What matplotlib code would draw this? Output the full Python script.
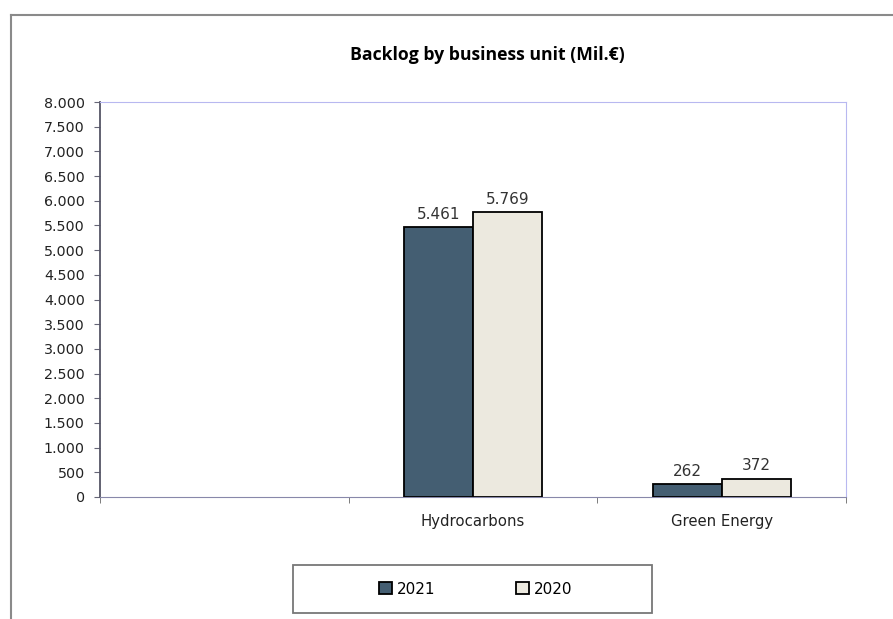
import numpy as np
import matplotlib.pyplot as plt
from matplotlib.lines import Line2D
from matplotlib.patches import Rectangle, Patch

categories = ["", "Hydrocarbons", "Green Energy"]
years = ["2021", "2020"]
backlog_2021 = [0, 5461, 262]
backlog_2020 = [0, 5769, 372]
y_ticks = list(range(0, 8001, 500))

c_2021 = "#445e72"
c_2020 = "#ece9df"


def fmt(v):
    return f"{v:,.0f}".replace(",", ".")


fig = plt.figure(figsize=(8.93, 6.19), dpi=100)
W, H = 893, 619

# outer chart frame
fig.add_artist(Line2D([10.5 / W, 10.5 / W], [0, 1 - 15 / H], color="#8a8a8a", lw=1.5))
fig.add_artist(Line2D([10.5 / W, 1], [1 - 15 / H, 1 - 15 / H], color="#8a8a8a", lw=1.5))

ax = fig.add_axes([100 / W, 1 - 497 / H, 746 / W, 395 / H])

x = np.arange(len(categories))
w = 0.277
for vals, col, off in [(backlog_2021, c_2021, -w / 2), (backlog_2020, c_2020, w / 2)]:
    for xi, v in zip(x, vals):
        if v == 0:
            continue
        ax.bar(xi + off, v, w, color=col, edgecolor="black", linewidth=1.3, zorder=3)
        ax.text(xi + off, v + 110, fmt(v), ha="center", va="bottom",
                fontsize=11, color="#333333", family="DejaVu Sans")

ax.set_xlim(-0.5, 2.5)
ax.set_ylim(0, 8000)
ax.set_yticks(y_ticks)
ax.set_yticklabels([fmt(v) for v in y_ticks], fontsize=10.3, family="DejaVu Sans",
                   color="#222222")
ax.set_xticks(x)
ax.set_xticklabels(categories, fontsize=10.7, family="DejaVu Sans", color="#222222")
ax.set_xticks([-0.5, 0.5, 1.5, 2.5], minor=True)
ax.tick_params(axis="x", which="major", length=0, pad=12)
ax.tick_params(axis="x", which="minor", length=4, color="#666666", direction="out")
ax.tick_params(axis="y", length=4, color="#666677", direction="out", pad=7)

ax.spines["left"].set_color("#555566")
ax.spines["left"].set_linewidth(1.3)
ax.spines["bottom"].set_color("#8888aa")
ax.spines["top"].set_color("#b8b8f0")
ax.spines["right"].set_color("#b8b8f0")

fig.text(487 / W, 1 - 55 / H, "Backlog by business unit (Mil.€)", ha="center", va="center",
         fontsize=12.7, fontweight="bold", family="Open Sans")

# legend box
fig.add_artist(Rectangle((293 / W, 1 - 613 / H), 359 / W, 48 / H, transform=fig.transFigure,
                         facecolor="white", edgecolor="#777777", lw=1.3))
handles = [Patch(facecolor=c_2021, edgecolor="black", lw=1.3),
           Patch(facecolor=c_2020, edgecolor="black", lw=1.3)]
fig.legend(handles, years, loc="center", bbox_to_anchor=(476 / W, 1 - 589 / H), ncol=2,
           frameon=False, handlelength=0.8, handleheight=0.8, handletextpad=0.35,
           columnspacing=5.3, prop={"family": "DejaVu Sans", "size": 11})

fig.savefig("out.png", dpi=100)
